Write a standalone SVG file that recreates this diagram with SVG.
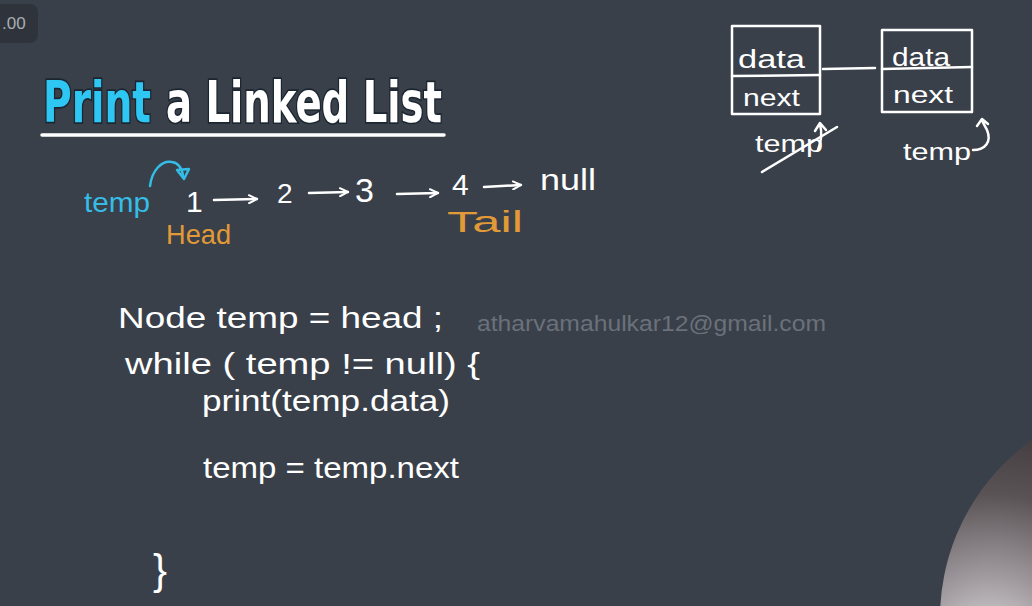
<svg xmlns="http://www.w3.org/2000/svg" width="1032" height="606" viewBox="0 0 1032 606">
<defs>
<style>
.hw{font-family:"Liberation Sans","DejaVu Sans",sans-serif;fill:#ffffff}
.cy{fill:#35bde6}
.or{fill:#e29a38}
.ln{stroke:#ffffff;stroke-width:2.5;fill:none;stroke-linecap:round;stroke-linejoin:round}
.cl{stroke:#35bde6;stroke-width:2.5;fill:none;stroke-linecap:round;stroke-linejoin:round}
.title{font-family:"DejaVu Sans Condensed","DejaVu Sans",sans-serif;font-weight:bold;font-size:44px;paint-order:stroke;stroke:#1c2630;stroke-width:2.5}
</style>
<marker id="ah" viewBox="0 0 10 10" refX="9" refY="5" markerWidth="10" markerHeight="10" markerUnits="userSpaceOnUse" orient="auto">
<path d="M1,1 L9,5 L1,9" fill="none" stroke="#ffffff" stroke-width="2" stroke-linecap="round"/>
</marker>
<radialGradient id="sph" gradientUnits="userSpaceOnUse" cx="990" cy="650" r="240">
<stop offset="0" stop-color="#e2dfe3"/>
<stop offset="0.3" stop-color="#a29ca0"/>
<stop offset="0.65" stop-color="#5a5356"/>
<stop offset="1" stop-color="#3b3639"/>
</radialGradient>
</defs>
<rect width="1032" height="606" fill="#39404a"/>

<g id="badge">
<rect x="-10" y="4" width="48" height="39" rx="8" fill="#2f343c"/>
<text x="2" y="29" font-family="Liberation Sans, sans-serif" font-size="17" fill="#a9adb3">.00</text>
</g>

<g id="title">
<text class="title" transform="translate(43,122) scale(1,1.31)" x="0" y="0" fill="#2ec6f2" textLength="108" lengthAdjust="spacingAndGlyphs">Print</text>
<text class="title" transform="translate(166,122) scale(1,1.31)" x="0" y="0" fill="#ffffff" textLength="276" lengthAdjust="spacingAndGlyphs">a Linked List</text>
<line x1="42" y1="135" x2="444" y2="135" stroke="#ffffff" stroke-width="3.5" stroke-linecap="round"/>
</g>

<g id="list-row">
<text class="hw cy" x="84" y="212" font-size="28" textLength="66" lengthAdjust="spacingAndGlyphs">temp</text>
<path class="cl" d="M150,186 C152,170 162,160 172,162 C178,163 182,168 183,176"/>
<path class="cl" d="M177,170 L184,179 L189,169 Z"/>
<text class="hw" x="186" y="212" font-size="30">1</text>
<text class="hw" x="277" y="203" font-size="28">2</text>
<text class="hw" x="355" y="202" font-size="34">3</text>
<text class="hw" x="452" y="195" font-size="30">4</text>
<text class="hw" x="540" y="190" font-size="30" textLength="56" lengthAdjust="spacingAndGlyphs">null</text>
<text class="hw or" x="166" y="244" font-size="28" textLength="65" lengthAdjust="spacingAndGlyphs">Head</text>
<text class="hw or" x="447" y="232" font-size="30" textLength="76" lengthAdjust="spacingAndGlyphs">Tail</text>
</g>

<g id="connectors">
<line class="ln" x1="214" y1="200" x2="257" y2="199" marker-end="url(#ah)"/>
<line class="ln" x1="309" y1="193" x2="348" y2="192" marker-end="url(#ah)"/>
<line class="ln" x1="397" y1="194" x2="438" y2="193" marker-end="url(#ah)"/>
<line class="ln" x1="484" y1="187" x2="521" y2="185" marker-end="url(#ah)"/>
<line class="ln" x1="823" y1="69" x2="875" y2="68"/>
</g>

<g id="code">
<text class="hw" x="118" y="328" font-size="29" textLength="325" lengthAdjust="spacingAndGlyphs">Node temp = head ;</text>
<text class="hw" x="125" y="374" font-size="29" textLength="355" lengthAdjust="spacingAndGlyphs">while ( temp != null) {</text>
<text class="hw" x="202" y="411" font-size="29" textLength="248" lengthAdjust="spacingAndGlyphs">print(temp.data)</text>
<text class="hw" x="203" y="478" font-size="29" textLength="256" lengthAdjust="spacingAndGlyphs">temp = temp.next</text>
<text class="hw" x="153" y="584" font-size="42">}</text>
</g>

<g id="watermark">
<text x="477" y="331" font-family="Liberation Sans, sans-serif" font-size="22" fill="#6b717a" textLength="349" lengthAdjust="spacingAndGlyphs">atharvamahulkar12@gmail.com</text>
</g>

<g id="node1">
<rect class="ln" x="732" y="26" width="88" height="88"/>
<line class="ln" x1="732" y1="76" x2="820" y2="75"/>
<text class="hw" x="738" y="68" font-size="26" textLength="67" lengthAdjust="spacingAndGlyphs">data</text>
<text class="hw" x="743" y="106" font-size="24" textLength="57" lengthAdjust="spacingAndGlyphs">next</text>
<text class="hw" x="755" y="152" font-size="24" textLength="68" lengthAdjust="spacingAndGlyphs">temp</text>
<line class="ln" x1="762" y1="172" x2="837" y2="127"/>
<path class="ln" d="M818,150 C822,140 822,132 820,124 M815,131 L820,123 L826,130"/>
</g>

<g id="node2">
<rect class="ln" x="882" y="30" width="90" height="82"/>
<line class="ln" x1="882" y1="69" x2="972" y2="67"/>
<text class="hw" x="892" y="66" font-size="26" textLength="58" lengthAdjust="spacingAndGlyphs">data</text>
<text class="hw" x="893" y="103" font-size="24" textLength="60" lengthAdjust="spacingAndGlyphs">next</text>
<text class="hw" x="903" y="160" font-size="24" textLength="68" lengthAdjust="spacingAndGlyphs">temp</text>
<path class="ln" d="M973,150 C985,150 992,142 987,130 C985,126 983,123 982,120 M977,126 L982,119 L988,124"/>
</g>

<circle cx="1158" cy="618" r="218" fill="url(#sph)"/>
</svg>
